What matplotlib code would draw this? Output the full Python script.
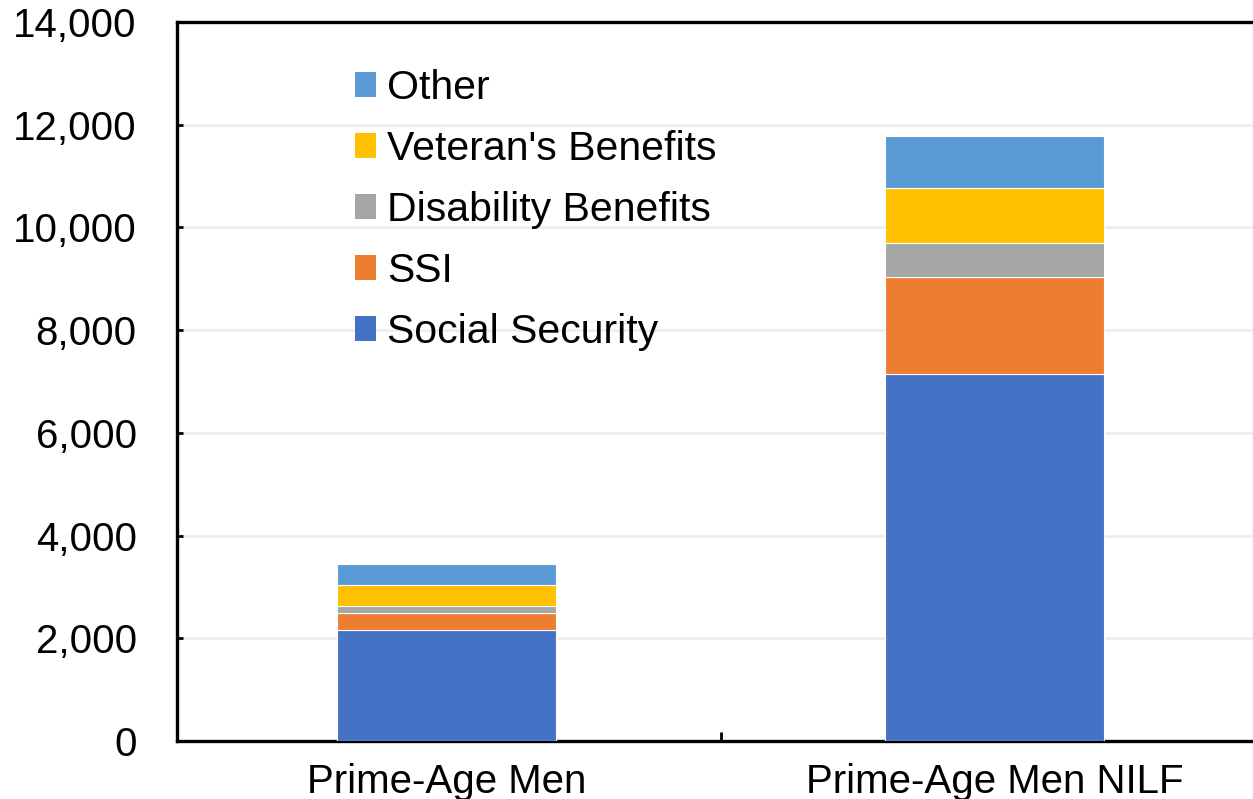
import matplotlib
matplotlib.use("Agg")
import matplotlib.pyplot as plt
from matplotlib.patches import Patch
from matplotlib.ticker import FuncFormatter, FixedLocator

plt.rcParams["font.family"] = ["Liberation Sans", "DejaVu Sans"]

# average annual benefit income by source (dollars)
groups = ["Prime-Age Men", "Prime-Age Men NILF"]
social_security = [2160, 7140]
ssi = [338, 1887]
disability = [128, 663]
veterans = [407, 1070]
other = [407, 1013]

series = [
    ("Social Security", social_security, "#4472C4"),
    ("SSI", ssi, "#ED7D31"),
    ("Disability Benefits", disability, "#A5A5A5"),
    ("Veteran's Benefits", veterans, "#FFC000"),
    ("Other", other, "#5B9BD5"),
]

W, H = 1253, 799
fig = plt.figure(figsize=(W / 100, H / 100), dpi=100)
# right edge of the frame runs past the figure, as in the source layout
ax = fig.add_axes([177 / W, 58 / H, (1268 - 177) / W, (741 - 22) / H])

x = list(range(len(groups)))
bottom = [0] * len(groups)
handles = []
for name, vals, color in series:
    ax.bar(x, vals, width=0.4, bottom=bottom, color=color,
           edgecolor="white", linewidth=0.8, zorder=3)
    bottom = [b + v for b, v in zip(bottom, vals)]
    handles.append(Patch(facecolor=color, edgecolor="none", label=name))

ax.set_xlim(-0.493, 1.5)
ax.set_ylim(0, 14000)
ax.set_yticks(range(0, 14001, 2000))
ax.yaxis.set_major_formatter(FuncFormatter(lambda v, _: f"{v:,.0f}"))
ax.grid(axis="y", color="#EEEEEE", linewidth=2.0, zorder=0)

ax.set_xticks(x)
ax.set_xticklabels(groups)
ax.xaxis.set_minor_locator(FixedLocator([0.5]))
ax.tick_params(axis="x", which="major", length=0, pad=16, labelsize=29)
ax.tick_params(axis="x", which="minor", direction="in", length=6.5, width=2)
ax.tick_params(axis="y", direction="in", length=4, width=2, pad=29, labelsize=29)

for s in ax.spines.values():
    s.set_linewidth(2.4)
    s.set_color("black")

leg = ax.legend(handles=handles[::-1], loc="upper left",
                bbox_to_anchor=(355 / W, (799 - 69) / H), bbox_transform=fig.transFigure,
                frameon=False, fontsize=29.5, handlelength=0.52, handleheight=0.55,
                handletextpad=0.27, labelspacing=0.56, borderpad=0, borderaxespad=0)

fig.savefig("out.png", dpi=100)
